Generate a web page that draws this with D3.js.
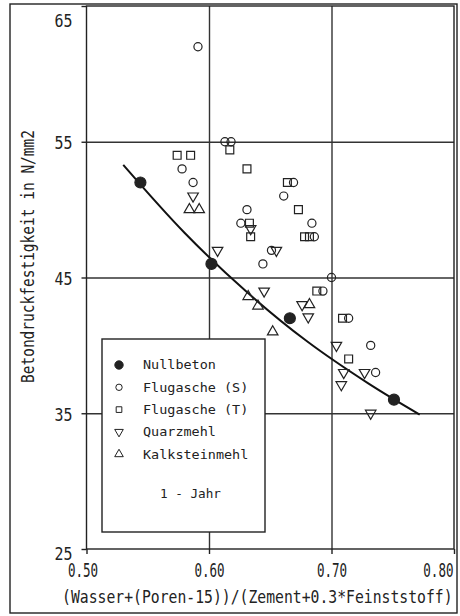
<!DOCTYPE html>
<html lang="de">
<head>
<meta charset="utf-8">
<script src="https://d3js.org/d3.v7.min.js"></script>
<title>Betondruckfestigkeit</title>
<style>
 body { margin: 0; background: #fff; }
 .axis path, .grid path { display: none; }
 .axis line { stroke: #222; stroke-width: 1.4; }
 .grid line { stroke: #333; stroke-width: 1.4; }
 text { font-family: "DejaVu Sans Mono", monospace; fill: #222; }
</style>
</head>
<body>
<svg width="460" height="616"></svg>
<script>
// values
var nullbeton = [[0.544, 52], [0.602, 46], [0.666, 42], [0.751, 36]];
var flugascheS = [[0.591, 62], [0.613, 55], [0.618, 55], [0.578, 53], [0.587, 52], [0.669, 52],
  [0.661, 51], [0.631, 50], [0.626, 49], [0.684, 49], [0.686, 48], [0.651, 47], [0.644, 46],
  [0.700, 45], [0.693, 44], [0.714, 42], [0.732, 40], [0.736, 38]];
var flugascheT = [[0.574, 54], [0.585, 54], [0.617, 54.4], [0.631, 53], [0.664, 52], [0.673, 50],
  [0.633, 49], [0.634, 48], [0.678, 48], [0.682, 48], [0.688, 44], [0.709, 42], [0.714, 39]];
var quarzmehl = [[0.587, 51], [0.607, 47], [0.634, 48.6], [0.655, 47], [0.645, 44], [0.676, 43],
  [0.681, 42.1], [0.704, 40], [0.710, 38], [0.727, 38], [0.708, 37.1], [0.732, 35]];
var kalkstein = [[0.584, 50], [0.592, 50], [0.632, 43.6], [0.640, 42.9], [0.652, 41], [0.682, 43]];
// regression curve for Nullbeton
var trendX = [0.53, 0.58, 0.63, 0.68, 0.73, 0.772];
var trendY = [53.3, 48.3, 44.0, 40.3, 37.2, 34.9];

var xTicks = [0.5, 0.6, 0.7, 0.8];
var yTicks = [25, 35, 45, 55, 65];
var legendNames = ["Nullbeton", "Flugasche (S)", "Flugasche (T)", "Quarzmehl", "Kalksteinmehl"];

var svg = d3.select("svg");
var x = d3.scaleLinear().domain([0.5, 0.8]).range([86.5, 454]);
var y = d3.scaleLinear().domain([25, 65]).range([549, 6]);

// outer frame
svg.append("rect")
  .attr("x", 10).attr("y", 4).attr("width", 447).attr("height", 609)
  .attr("fill", "none").attr("stroke", "#222").attr("stroke-width", 1.4);

// grid
svg.append("g").attr("class", "grid")
  .attr("transform", "translate(0,549)")
  .call(d3.axisBottom(x).tickValues([0.6, 0.7]).tickSize(-543).tickFormat(""));
svg.append("g").attr("class", "grid")
  .attr("transform", "translate(86.5,0)")
  .call(d3.axisLeft(y).tickValues([35, 45, 55]).tickSize(-367.5).tickFormat(""));

// plot frame
svg.append("rect")
  .attr("x", x(0.5)).attr("y", y(65))
  .attr("width", x(0.8) - x(0.5)).attr("height", y(25) - y(65))
  .attr("fill", "none").attr("stroke", "#222").attr("stroke-width", 1.4);

// axes (labels squeezed horizontally like the plotter font)
var sxX = 0.66, sxY = 0.83;
var xAxis = svg.append("g").attr("class", "axis")
  .attr("transform", "translate(0,549)")
  .call(d3.axisBottom(x).tickValues(xTicks).tickSize(5).tickFormat(d3.format(".2f")));
xAxis.selectAll("text")
  .style("font-size", "19px")
  .attr("dy", 0).attr("y", 28.5)
  .attr("transform", "scale(" + sxX + ",1)")
  .attr("text-anchor", function(d) { return d === 0.8 ? "end" : "middle"; })
  .attr("x", function(d) { return d === 0.8 ? -1 / sxX : d === 0.5 ? -4 / sxX : 0; });

var yAxis = svg.append("g").attr("class", "axis")
  .attr("transform", "translate(86.5,0)")
  .call(d3.axisLeft(y).tickValues(yTicks).tickSize(5));
yAxis.selectAll("text")
  .style("font-size", "18px")
  .attr("dy", 0)
  .attr("transform", "scale(" + sxY + ",1)")
  .attr("x", -14 / sxY)
  .attr("y", function(d) { return d === 65 ? 20.5 : d === 25 ? 10 : 7; });

// axis titles
svg.append("text")
  .attr("transform", "translate(62,603) scale(0.868,1)")
  .style("font-size", "17px")
  .text("(Wasser+(Poren-15))/(Zement+0.3*Feinststoff)");

svg.append("text")
  .attr("transform", "translate(33.5,383) rotate(-90) scale(0.806,1)")
  .style("font-size", "18px")
  .text("Betondruckfestigkeit in N/mm2");

// regression curve
var line = d3.line()
  .x(function(d, i) { return x(trendX[i]); })
  .y(function(d, i) { return y(trendY[i]); })
  .curve(d3.curveCatmullRom);
svg.append("path")
  .datum(trendX)
  .attr("d", line)
  .attr("fill", "none").attr("stroke", "#111").attr("stroke-width", 2);

// markers
var series = [
  {data: flugascheS, type: d3.symbolCircle, size: 52, rot: 0, fill: "none"},
  {data: flugascheT, type: d3.symbolSquare, size: 62, rot: 0, fill: "none"},
  {data: quarzmehl, type: d3.symbolTriangle, size: 48, rot: 180, fill: "none"},
  {data: kalkstein, type: d3.symbolTriangle, size: 48, rot: 0, fill: "none"},
  {data: nullbeton, type: d3.symbolCircle, size: 95, rot: 0, fill: "#222"}
];

series.forEach(function(s) {
  svg.append("g").selectAll("path")
    .data(s.data)
    .enter().append("path")
      .attr("d", d3.symbol().type(s.type).size(s.size))
      .attr("transform", function(d) { return "translate(" + x(d[0]) + "," + y(d[1]) + ") rotate(" + s.rot + ")"; })
      .attr("fill", s.fill)
      .attr("stroke", "#222")
      .attr("stroke-width", 1.2);
});

// legend
var legend = svg.append("g");
legend.append("rect")
  .attr("x", 102).attr("y", 339).attr("width", 163).attr("height", 193)
  .attr("fill", "#fff").attr("stroke", "#222").attr("stroke-width", 1.4);

var legendSeries = [series[4], series[0], series[1], series[2], series[3]];
legendNames.forEach(function(name, i) {
  var s = legendSeries[i];
  var ly = 365 + i * 22.3;
  legend.append("path")
    .attr("d", d3.symbol().type(s.type).size(s === series[4] ? 55 : 32))
    .attr("transform", "translate(119," + ly + ") rotate(" + s.rot + ")")
    .attr("fill", s.fill).attr("stroke", "#222").attr("stroke-width", 1);
  legend.append("text")
    .attr("x", 143).attr("y", ly + 4.3)
    .style("font-size", "12px")
    .attr("textLength", name.length * 8.1).attr("lengthAdjust", "spacingAndGlyphs")
    .text(name);
});

legend.append("text")
  .attr("x", 160).attr("y", 498)
  .style("font-size", "13px")
  .attr("textLength", 61).attr("lengthAdjust", "spacingAndGlyphs")
  .text("1 - Jahr");
</script>
</body>
</html>
